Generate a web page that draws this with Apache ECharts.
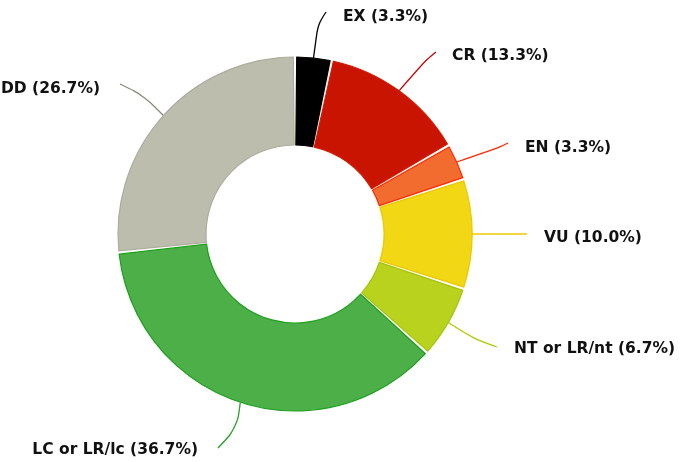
<!DOCTYPE html>
<html>
<head>
<meta charset="utf-8">
<script src="https://cdn.jsdelivr.net/npm/echarts@6/dist/echarts.min.js"></script>
<style>
html,body{margin:0;padding:0;background:#fff;}
#chart{width:680px;height:462px;}
</style>
</head>
<body>
<div id="chart"></div>
<script>
// Data
var categories = ['EX', 'CR', 'EN', 'VU', 'NT or LR/nt', 'LC or LR/lc', 'DD'];
var counts = [1, 4, 1, 3, 2, 11, 8];
var percentLabels = ['3.3%', '13.3%', '3.3%', '10.0%', '6.7%', '36.7%', '26.7%'];

// Styles
var fillColors = ['#000000', '#c81400', '#f26c30', '#f1d714', '#b8d21e', '#4caf48', '#bdbdad'];
var borderColors = ['#000000', '#d61c00', '#ff2a00', '#ecc800', '#a6c40c', '#1ea01e', '#adad9d'];
var lineColors = ['#000000', '#c80000', '#ff2a00', '#f0c800', '#b0c800', '#2ca02c', '#8a8a78'];

// Label layout (anchor x, y, align) and connector shape (mid point, end point)
var labelAnchor = [[343, 17, 'left'], [452, 56, 'left'], [525, 148, 'left'], [544, 238, 'left'],
                   [514, 349, 'left'], [198, 450, 'right'], [100, 89, 'right']];
var lineMid = [[318, 24], [426, 60], [500, 147], [500, 234], [474, 339], [237, 428], [143, 95]];
var lineEnd = [[326, 12], [436, 52], [508, 143], [527, 234], [497, 347], [218, 448], [120, 84]];

var chart = echarts.init(document.getElementById('chart'), null, {renderer: 'canvas'});

var data = categories.map(function (c, i) {
  return {
    name: c,
    value: counts[i],
    itemStyle: {color: fillColors[i], borderColor: borderColors[i], borderWidth: 1.2},
    label: {formatter: c + ' (' + percentLabels[i] + ')'},
    labelLine: {lineStyle: {color: lineColors[i], width: 1.3}}
  };
});

chart.setOption({
  animation: false,
  series: [{
    type: 'pie',
    center: [295, 234],
    radius: [89, 177],
    startAngle: 90,
    clockwise: true,
    padAngle: 1.1,
    avoidLabelOverlap: false,
    label: {
      show: true,
      position: 'outer',
      color: '#111',
      fontFamily: 'DejaVu Sans',
      fontWeight: 'bold',
      fontSize: 15.5
    },
    labelLine: {show: true, smooth: 0.35, length: 20, length2: 10},
    labelLayout: function (params) {
      var i = params.dataIndex;
      var a = labelAnchor[i];
      var p0 = params.labelLinePoints ? params.labelLinePoints[0] : lineMid[i];
      return {
        x: a[0],
        y: a[1],
        align: a[2],
        verticalAlign: 'middle',
        labelLinePoints: [p0, lineMid[i], lineEnd[i]]
      };
    },
    emphasis: {disabled: true},
    data: data
  }]
});
</script>
</body>
</html>
